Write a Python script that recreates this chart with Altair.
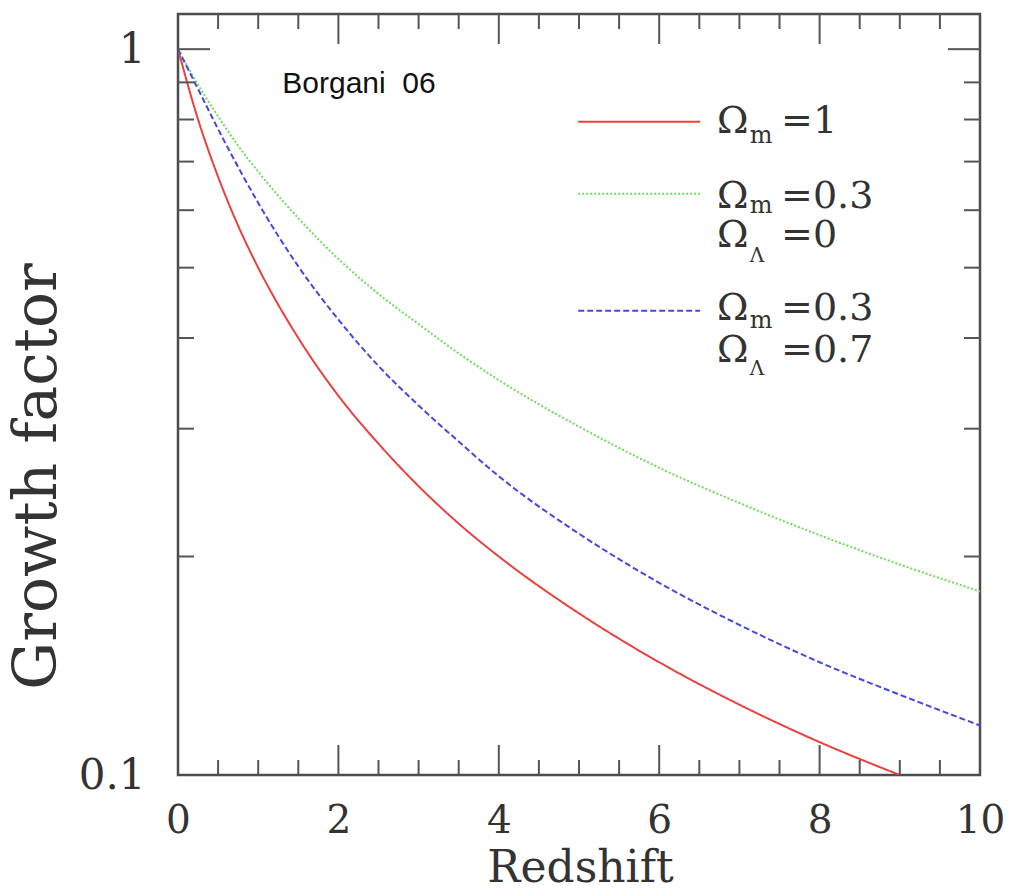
import altair as alt
import pandas as pd

# ---- data ----
redshift = [0, 0.25, 0.5, 0.75, 1, 1.5, 2, 2.5, 3, 3.5, 4, 5, 6, 7, 8, 9, 10]
growth_om1 = [1, 0.8, 0.667, 0.571, 0.5, 0.4, 0.333, 0.286, 0.25, 0.222, 0.2,
              0.167, 0.143, 0.125, 0.111, 0.1, 0.0909]
growth_open = [1, 0.893, 0.808, 0.736, 0.678, 0.585, 0.514, 0.46, 0.418, 0.381,
               0.35, 0.302, 0.265, 0.237, 0.214, 0.195, 0.179]
growth_lcdm = [1, 0.881, 0.776, 0.688, 0.614, 0.502, 0.424, 0.366, 0.323, 0.288,
               0.258, 0.215, 0.184, 0.161, 0.143, 0.129, 0.117]

series_names = ["om1", "open", "lcdm"]
series_values = [growth_om1, growth_open, growth_lcdm]
series_colors = ["#e8423f", "#6ddc5a", "#4848de"]
series_dash = [[1, 0], [2, 2], [6, 3]]

x_labels = [0, 2, 4, 6, 8, 10]
y_labels = [0.1, 1]
x_major_ticks = [2, 4, 6, 8]
x_minor_ticks = [0.5, 1, 1.5, 2.5, 3, 3.5, 4.5, 5, 5.5, 6.5, 7, 7.5, 8.5, 9, 9.5]
y_major_ticks = [1]
y_minor_ticks = [0.2, 0.3, 0.4, 0.5, 0.6, 0.7, 0.8, 0.9]

# legend (positions in data units)
legend_line_x = [4.99, 6.51]
legend_line_y = [0.7945, 0.632, 0.436]
legend_sym_x = 6.72
legend_sub_x = 7.13
legend_eq_x = 7.52
legend_rows_sub = ["m", "m", "Λ", "m", "Λ"]
legend_rows_eq = ["=1", "=0.3", "=0", "=0.3", "=0.7"]
legend_rows_y = [0.767, 0.6047, 0.534, 0.4238, 0.371]
legend_sub_y = [0.743, 0.595, 0.5095, 0.4133, 0.3557]

note_text = "Borgani\u00a0\u00a006"
note_x = 1.3
note_y = 0.871

W, H = 802, 761
SERIF = "DejaVu Serif"
YMAX = 1.118

xs = alt.Scale(domain=[0, 10], nice=False, zero=False)
ys = alt.Scale(type="log", domain=[0.1, YMAX], nice=False)

layers = []

# curves
for name, vals, col, dash in zip(series_names, series_values, series_colors, series_dash):
    df = pd.DataFrame({"z": redshift, "g": vals})
    layers.append(
        alt.Chart(df).mark_line(color=col, strokeWidth=2, strokeDash=dash,
                                interpolate="monotone", clip=True).encode(
            x=alt.X("z:Q", scale=xs,
                    axis=alt.Axis(values=x_labels, format="d", ticks=False, tickSize=0, domain=False,
                                  grid=False, labelFont=SERIF, labelFontSize=39, labelColor="#333",
                                  labelPadding=57, labelBaseline="alphabetic", labelFlush=False,
                                  title="Redshift", titleFont=SERIF, titleFontSize=44,
                                  titleFontWeight="normal", titleColor="#333",
                                  titleX=402, titleY=106, titleBaseline="alphabetic",
                                  titleAlign="center")),
            y=alt.Y("g:Q", scale=ys,
                    axis=alt.Axis(values=y_labels, format="~g", ticks=False, tickSize=0, domain=False,
                                  grid=False, labelFont=SERIF, labelFontSize=42, labelColor="#333",
                                  labelPadding=33, labelBaseline="middle", labelFlush=False,
                                  title="Growth factor", titleFont=SERIF, titleFontSize=60,
                                  titleFontWeight="normal", titleColor="#333", titleAngle=270,
                                  titleX=-123, titleY=462, titleBaseline="alphabetic",
                                  titleAlign="center")),
        )
    )

# tick marks (inside the frame, on all four sides)
tick_color = "#555555"
def xticks(vals, length):
    df = pd.DataFrame({"t": vals})
    bot = alt.Chart(df).mark_rule(color=tick_color, strokeWidth=2).encode(
        x=alt.X("t:Q", scale=xs), y=alt.value(H), y2=alt.value(H - length))
    top = alt.Chart(df).mark_rule(color=tick_color, strokeWidth=2).encode(
        x=alt.X("t:Q", scale=xs), y=alt.value(0), y2=alt.value(length))
    return [bot, top]

def yticks(vals, length):
    df = pd.DataFrame({"t": vals})
    left = alt.Chart(df).mark_rule(color=tick_color, strokeWidth=2).encode(
        y=alt.Y("t:Q", scale=ys), x=alt.value(0), x2=alt.value(length))
    right = alt.Chart(df).mark_rule(color=tick_color, strokeWidth=2).encode(
        y=alt.Y("t:Q", scale=ys), x=alt.value(W), x2=alt.value(W - length))
    return [left, right]

layers += xticks(x_major_ticks, 30) + xticks(x_minor_ticks, 15)
layers += yticks(y_major_ticks, 32) + yticks(y_minor_ticks, 16)

# legend lines
for col, dash, yv in zip(series_colors, series_dash, legend_line_y):
    df = pd.DataFrame({"x1": [legend_line_x[0]], "x2": [legend_line_x[1]], "y": [yv]})
    layers.append(alt.Chart(df).mark_rule(color=col, strokeWidth=2, strokeDash=dash).encode(
        x=alt.X("x1:Q", scale=xs), x2="x2:Q", y=alt.Y("y:Q", scale=ys)))

# legend texts
sym_df = pd.DataFrame({"x": [legend_sym_x] * len(legend_rows_y), "y": legend_rows_y,
                       "t": ["Ω"] * len(legend_rows_y)})
eq_df = pd.DataFrame({"x": [legend_eq_x] * len(legend_rows_y), "y": legend_rows_y,
                      "t": legend_rows_eq})
sub_df = pd.DataFrame({"x": [legend_sub_x] * len(legend_sub_y), "y": legend_sub_y,
                       "t": legend_rows_sub,
                       "s": [24 if s == "m" else 20 for s in legend_rows_sub]})
for df, size in [(sym_df, 38), (eq_df, 38)]:
    layers.append(alt.Chart(df).mark_text(font=SERIF, fontSize=size, color="#333",
                                          align="left", baseline="alphabetic").encode(
        x=alt.X("x:Q", scale=xs), y=alt.Y("y:Q", scale=ys), text="t:N"))
layers.append(alt.Chart(sub_df).mark_text(font=SERIF, color="#333",
                                          align="left", baseline="alphabetic").encode(
    x=alt.X("x:Q", scale=xs), y=alt.Y("y:Q", scale=ys), text="t:N",
    size=alt.Size("s:Q", scale=None, legend=None)))

# annotation
note_df = pd.DataFrame({"x": [note_x], "y": [note_y], "t": [note_text]})
layers.append(alt.Chart(note_df).mark_text(font="Liberation Sans", fontSize=30, color="#111",
                                           align="left", baseline="alphabetic").encode(
    x=alt.X("x:Q", scale=xs), y=alt.Y("y:Q", scale=ys), text="t:N"))

chart = alt.layer(*layers).properties(
    width=W, height=H,
    autosize=alt.AutoSizeParams(type="none"),
    padding={"left": 178, "top": 14, "right": 32, "bottom": 115},
    background="white",
).configure_view(stroke="#4d4d4d", strokeWidth=2.5)

chart.save("out.html", embed_options={"renderer": "svg", "actions": False})
